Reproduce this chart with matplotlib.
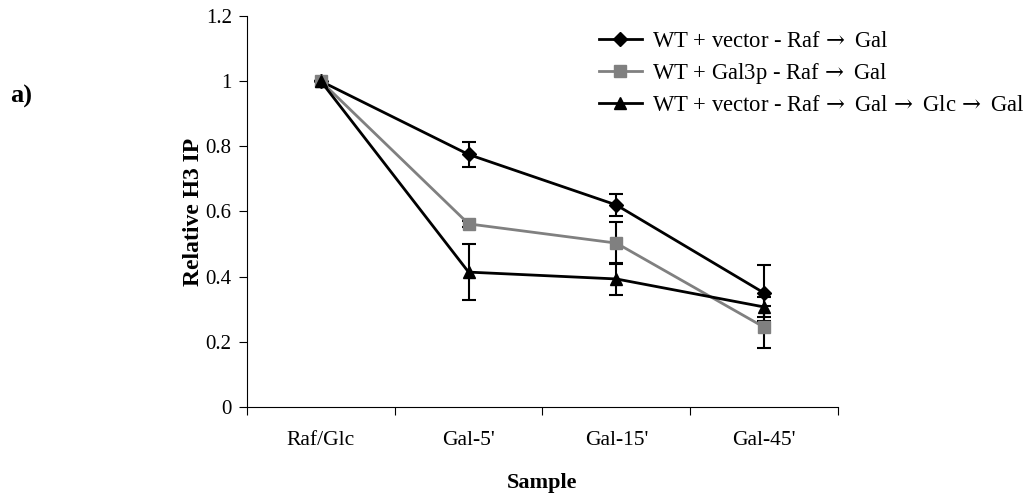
import matplotlib
matplotlib.use('Agg')
import matplotlib.pyplot as plt

plt.rcParams['font.family'] = ['Liberation Serif', 'DejaVu Serif']
plt.rcParams['mathtext.fontset'] = 'dejavuserif'

# Data.
samples = ['Raf/Glc', "Gal-5'", "Gal-15'", "Gal-45'"]

wt_vec = [1.0, 0.775, 0.62, 0.35]
wt_vec_err = [0.0, 0.038, 0.035, 0.085]

wt_gal3 = [1.0, 0.562, 0.503, 0.245]
wt_gal3_err = [0.0, 0.01, 0.065, 0.065]

wt_vec_glc = [1.0, 0.414, 0.393, 0.307]
wt_vec_glc_err = [0.0, 0.085, 0.05, 0.03]

arr = r'$\!\rightarrow$'
labels = ['WT + vector - Raf ' + arr + ' Gal',
          'WT + Gal3p - Raf ' + arr + ' Gal',
          'WT + vector - Raf ' + arr + ' Gal ' + arr + ' Glc ' + arr + ' Gal']

fig = plt.figure(figsize=(10.35, 5), dpi=100)
ax = fig.add_axes([0.2386, 0.186, 0.571, 0.782])

x = range(len(samples))
series = [
    (wt_vec, wt_vec_err, 'black', 'D', 7),
    (wt_gal3, wt_gal3_err, '#808080', 's', 8),
    (wt_vec_glc, wt_vec_glc_err, 'black', '^', 9),
]
handles = []
for (vals, errs, col, mk, ms), lab in zip(series, labels):
    cont = ax.errorbar(x, vals, yerr=errs, color=col, marker=mk, markersize=ms,
                       linewidth=2, ecolor='black', elinewidth=1.5, capsize=5,
                       capthick=1.5, label=lab)
    handles.append(cont[0])

ax.set_xlim(-0.5, 3.5)
ax.set_ylim(0, 1.2)
ax.set_yticks([0, 0.2, 0.4, 0.6, 0.8, 1.0, 1.2])
ax.set_yticklabels(['0', '0.2', '0.4', '0.6', '0.8', '1', '1.2'])
ax.set_xticks([-0.5, 0.5, 1.5, 2.5, 3.5])
ax.set_xticklabels([])
ax.set_xticks(list(x), minor=True)
ax.set_xticklabels(samples, minor=True)
ax.tick_params(axis='x', which='minor', length=0, pad=17, labelsize=15.5)
ax.tick_params(axis='x', which='major', length=6, direction='out')
ax.tick_params(axis='y', length=6, direction='out', labelsize=15, pad=5)
ax.spines['top'].set_visible(False)
ax.spines['right'].set_visible(False)

ax.set_xlabel('Sample', fontsize=16, fontweight='bold', labelpad=17)
ax.set_ylabel('Relative H3 IP', fontsize=17, fontweight='bold', labelpad=1)

fig.text(0.01, 0.795, 'a)', fontsize=19, fontweight='bold')

leg = ax.legend(handles, labels, loc='upper left', bbox_to_anchor=(0.58, 0.985),
                frameon=False, fontsize=16.3, handlelength=1.9,
                labelspacing=0.4, borderaxespad=0, handletextpad=0.45)

fig.savefig('out.png', dpi=100)
